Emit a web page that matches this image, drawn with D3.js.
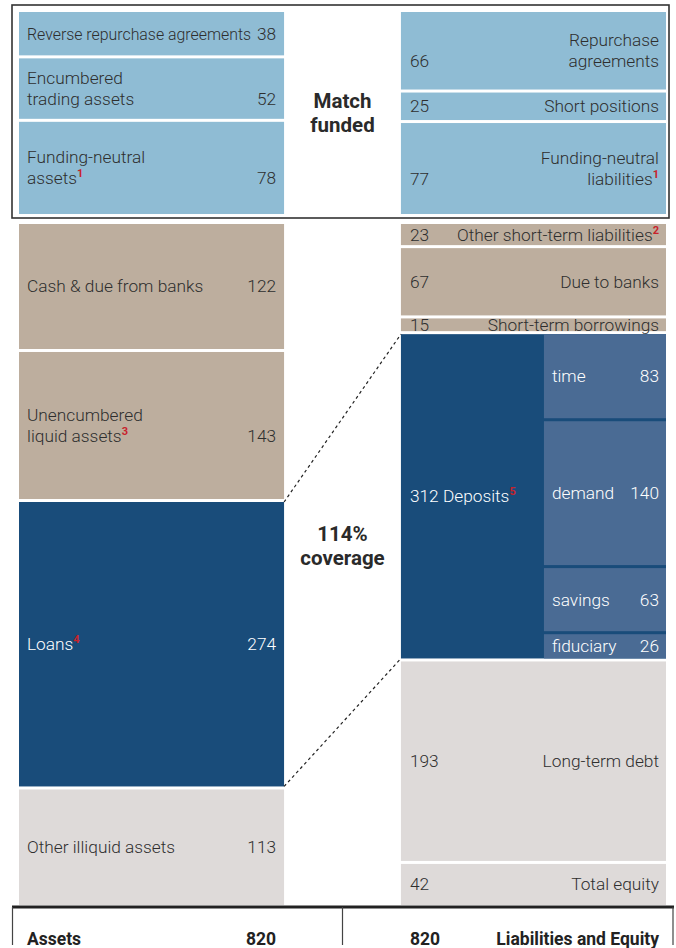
<!DOCTYPE html>
<html lang="en">
<head>
    <meta charset="UTF-8">
    <title>Balance sheet: liquidity coverage</title>
    <script src="https://d3js.org/d3.v7.min.js"></script>
    <style>
        body { margin: 0; padding: 0; background: #fff; }
        svg { display: block; font-family: Roboto, "Liberation Sans", Arial, sans-serif; }
        .lbl { font-size: 17.3px; font-weight: 300; fill: #2e2e2e; }
        .light { fill: #fff; }
        .head { font-size: 20.5px; font-weight: bold; fill: #2a2a2a; text-anchor: middle; }
        .foot { font-size: 17.5px; font-weight: bold; fill: #222; }
    </style>
</head>
<body>
<svg id="chart" width="676" height="948"></svg>

<script>
    // Balance sheet items (first three of each side are the match-funded block)
    const assetLabels = ["Reverse repurchase agreements", "Encumbered\ntrading assets", "Funding-neutral\nassets",
        "Cash & due from banks", "Unencumbered\nliquid assets", "Loans", "Other illiquid assets"];
    const assetValues = [38, 52, 78, 122, 143, 274, 113];
    const assetNotes = ["", "", "1", "", "3", "4", ""];
    const assetKinds = ["match", "match", "match", "liquid", "liquid", "loan", "illiquid"];

    const liabLabels = ["Repurchase\nagreements", "Short positions", "Funding-neutral\nliabilities",
        "Other short-term liabilities", "Due to banks", "Short-term borrowings", "Deposits", "Long-term debt", "Total equity"];
    const liabValues = [66, 25, 77, 23, 67, 15, 312, 193, 42];
    const liabNotes = ["", "", "1", "2", "", "", "5", "", ""];
    const liabKinds = ["match", "match", "match", "short", "short", "short", "deposit", "long", "long"];

    const depositLabels = ["time", "demand", "savings", "fiduciary"];
    const depositValues = [83, 140, 63, 26];

    const totals = { assets: 820, liabilities: 820 };
    const matchCount = 3;

    const svg = d3.select("#chart");
    const gap = 3;

    const color = d3.scaleOrdinal()
        .domain(["match", "liquid", "short", "loan", "deposit", "illiquid", "long", "sub"])
        .range(["#8fbcd4", "#bdae9e", "#bdae9e", "#194c7a", "#194c7a", "#dedad9", "#dedad9", "#4a6b94"]);

    const x = d3.scaleBand().domain(["assets", "liabilities"]).range([19, 666]).paddingInner(0.306);
    const bw = x.bandwidth();

    // two vertical scales: match-funded block and remaining balance sheet
    const matchTotal = d3.sum(assetValues.slice(0, matchCount));
    const restTotal = d3.sum(assetValues.slice(matchCount));
    const yTop = d3.scaleLinear().domain([0, matchTotal]).range([12, 214 + gap]);
    const yBot = d3.scaleLinear().domain([0, restTotal]).range([224, 905 + gap]);

    function stack(labels, values, notes, kinds) {
        const rows = [];
        let accTop = 0, accBot = 0;
        values.forEach((v, i) => {
            const top = i < matchCount;
            const s = top ? yTop : yBot;
            const start = top ? accTop : accBot;
            rows.push({ label: labels[i], value: v, note: notes[i], kind: kinds[i],
                y0: s(start), y1: s(start + v) - gap, start: start, top: top });
            if (top) accTop += v; else accBot += v;
        });
        return rows;
    }

    const assets = stack(assetLabels, assetValues, assetNotes, assetKinds);
    const liabs = stack(liabLabels, liabValues, liabNotes, liabKinds);

    // frame round the match-funded block
    svg.append("rect")
        .attr("x", 12).attr("y", 5).attr("width", 657).attr("height", 213)
        .attr("fill", "none").attr("stroke", "#333").attr("stroke-width", 1.6);

    function addLabel(g, text, note, xPos, yCenter, anchor, cls) {
        const lines = text.split("\n");
        const base = yCenter - (lines.length - 1) * 10.5 + 6;
        const t = g.append("text").attr("class", cls).attr("text-anchor", anchor);
        lines.forEach((ln, i) => {
            t.append("tspan").attr("x", xPos).attr("y", base + i * 21).text(ln);
            if (i === lines.length - 1 && note) {
                t.append("tspan").attr("dy", -7).attr("font-size", 11).attr("font-weight", "bold")
                    .attr("fill", "#c8232c").text(note);
            }
        });
        return { node: t, last: base + (lines.length - 1) * 21 };
    }

    // squeeze a label horizontally if it runs into its value
    function fit(t, xPos, room) {
        const w = t.node().getBBox().width;
        if (w > room) {
            const k = room / w;
            t.attr("transform", `translate(${xPos},0) scale(${k},1) translate(${-xPos},0)`);
        }
    }

    // assets column
    const ga = svg.append("g");
    const ax = x("assets");
    ga.selectAll("rect").data(assets).enter().append("rect")
        .attr("x", ax).attr("width", bw)
        .attr("y", d => d.y0).attr("height", d => d.y1 - d.y0)
        .attr("fill", d => color(d.kind));
    assets.forEach(d => {
        const cls = d.kind === "loan" ? "lbl light" : "lbl";
        const lab = addLabel(ga, d.label, d.note, ax + 8, (d.y0 + d.y1) / 2, "start", cls);
        const val = ga.append("text").attr("class", cls).attr("text-anchor", "end")
            .attr("x", ax + bw - 8).attr("y", lab.last).text(d.value);
        fit(lab.node, ax + 8, bw - 16 - val.node().getBBox().width - 6);
    });

    // liabilities column
    const gl = svg.append("g");
    const lx = x("liabilities");
    gl.selectAll("rect").data(liabs).enter().append("rect")
        .attr("x", lx).attr("width", bw)
        .attr("y", d => d.y0).attr("height", d => d.y1 - d.y0)
        .attr("fill", d => color(d.kind));

    const subX = lx + 143;
    liabs.forEach(d => {
        if (d.kind === "deposit") {
            addLabel(gl, d.value + " " + d.label, d.note, lx + 9, (d.y0 + d.y1) / 2, "start", "lbl light");
            return;
        }
        const lab = addLabel(gl, d.label, d.note, lx + bw - 7, (d.y0 + d.y1) / 2, "end", "lbl");
        const val = gl.append("text").attr("class", "lbl").attr("x", lx + 9).attr("y", lab.last).text(d.value);
        fit(lab.node, lx + bw - 7, bw - 16 - val.node().getBBox().width - 8);
    });

    // deposit breakdown
    const dep = liabs.find(d => d.kind === "deposit");
    let acc = dep.start;
    const subs = depositValues.map((v, i) => {
        const r = { label: depositLabels[i], value: v, y0: yBot(acc), y1: yBot(acc + v) - gap };
        acc += v;
        return r;
    });
    const gs = svg.append("g");
    gs.selectAll("rect").data(subs).enter().append("rect")
        .attr("x", subX).attr("width", lx + bw - subX)
        .attr("y", d => d.y0).attr("height", d => d.y1 - d.y0)
        .attr("fill", color("sub"));
    subs.forEach(d => {
        const yc = (d.y0 + d.y1) / 2 + 6;
        gs.append("text").attr("class", "lbl light").attr("x", subX + 8).attr("y", yc).text(d.label);
        gs.append("text").attr("class", "lbl light").attr("text-anchor", "end")
            .attr("x", lx + bw - 7).attr("y", yc).text(d.value);
    });

    // dashed connectors loans -> deposits
    const loans = assets.find(d => d.kind === "loan");
    [[loans.y0, dep.y0], [loans.y1, dep.y1]].forEach(p => {
        svg.append("line")
            .attr("x1", ax + bw).attr("y1", p[0]).attr("x2", lx).attr("y2", p[1])
            .attr("stroke", "#222").attr("stroke-width", 1.2).attr("stroke-dasharray", "3,3");
    });

    const cx = (ax + bw + lx) / 2;
    svg.append("text").attr("class", "head").attr("x", cx).attr("y", 108).text("Match");
    svg.append("text").attr("class", "head").attr("x", cx).attr("y", 132).text("funded");
    svg.append("text").attr("class", "head").attr("x", cx).attr("y", 541).text("114%");
    svg.append("text").attr("class", "head").attr("x", cx).attr("y", 565).text("coverage");

    // totals row
    svg.append("line").attr("x1", 12).attr("x2", 674).attr("y1", 907).attr("y2", 907)
        .attr("stroke", "#222").attr("stroke-width", 3);
    [12.5, cx, 673].forEach(v => {
        svg.append("line").attr("x1", v).attr("x2", v).attr("y1", 907).attr("y2", 945)
            .attr("stroke", "#444").attr("stroke-width", 1.2);
    });
    svg.append("text").attr("class", "foot").attr("x", ax + 8).attr("y", 945).text("Assets");
    svg.append("text").attr("class", "foot").attr("text-anchor", "end").attr("x", ax + bw - 8).attr("y", 945).text(totals.assets);
    svg.append("text").attr("class", "foot").attr("x", lx + 9).attr("y", 945).text(totals.liabilities);
    svg.append("text").attr("class", "foot").attr("text-anchor", "end").attr("x", lx + bw - 7).attr("y", 945).text("Liabilities and Equity");
</script>
</body>
</html>
